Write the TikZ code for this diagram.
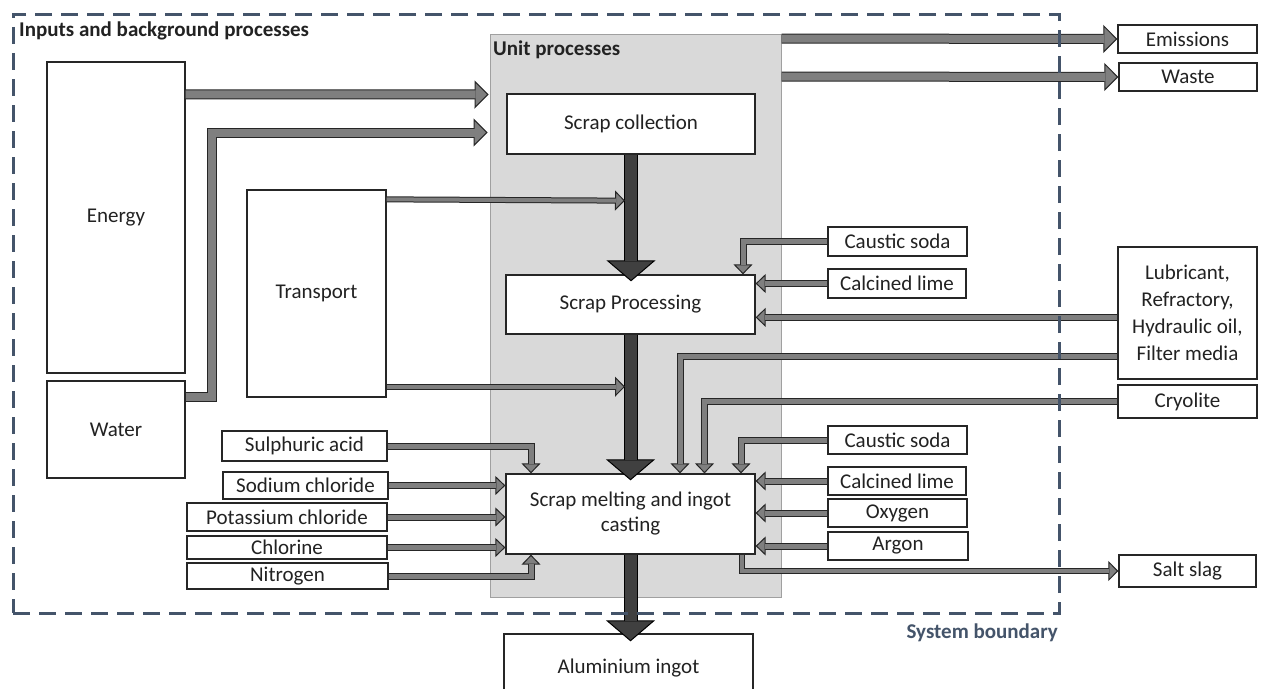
\documentclass[tikz,border=0pt]{standalone}
\usepackage{fontspec}
\setmainfont{Carlito}
\usetikzlibrary{arrows.meta,calc}
\definecolor{edge}{HTML}{262626}
\definecolor{agray}{HTML}{7F7F7F}
\definecolor{adark}{HTML}{404040}
\definecolor{unitfill}{HTML}{D9D9D9}
\definecolor{unitline}{HTML}{A0A0A0}
\definecolor{slate}{HTML}{44546A}
\definecolor{txt}{HTML}{222222}
\newcommand\fs{\fontsize{21}{25}\selectfont}
\newcommand\fsw{\fontsize{21}{27}\selectfont}
\tikzset{
  box/.style={draw=edge, fill=white, line width=1.3pt, inner sep=0pt, align=center, text=txt, font=\fs},
  unitbox/.style={draw=unitline, fill=unitfill, line width=1pt, inner sep=0pt},
  lbl/.style={inner sep=0pt, font=\fs\bfseries, text=txt},
  bigflow/.style={draw=edge, line width=10pt, line join=miter,
    -{Triangle[length=14pt,width=28pt,fill=agray,line width=1pt]},
    postaction={draw=agray, line width=8pt, arrows=-, shorten >=13pt}},
  flow/.style={draw=edge, line width=7pt, line join=miter,
    -{Triangle[length=10pt,width=19pt,fill=agray,line width=1pt]},
    postaction={draw=agray, line width=5pt, arrows=-, shorten >=9pt}},
  thinflow/.style={draw=edge, line width=6pt, line join=miter,
    -{Triangle[length=10pt,width=20pt,fill=agray,line width=1pt]},
    postaction={draw=agray, line width=4pt, arrows=-, shorten >=9pt}},
  mainflow/.style={draw=black, line width=14pt, line join=miter,
    -{Triangle[length=21pt,width=49pt,fill=adark,line width=1pt]},
    postaction={draw=adark, line width=12pt, arrows=-, shorten >=20pt}},
  sysline/.style={draw=slate, line width=3pt, dash pattern=on 17pt off 9pt, inner sep=0pt},
}
\begin{document}
\begin{tikzpicture}[x=1pt,y=-1pt]
\useasboundingbox (0,0) rectangle (1266,688);
\clip (0,0) rectangle (1266,688);
\fill[white] (0,0) rectangle (1266,688);

% unit processes area
\node[unitbox, minimum width=291pt, minimum height=563pt] (unit) at (635.5,315.5) {};

% boxes
\node[box, minimum width=138pt, minimum height=311pt] (energy) at (116,217.5) {Energy};
\node[box, minimum width=138pt, minimum height=97pt] (water) at (116,429.5) {Water};
\node[box, minimum width=139pt, minimum height=207pt] (transport) at (316.5,293.5) {Transport};

\node[box, minimum width=248pt, minimum height=60pt] (collect) at (631,124) {Scrap collection};
\node[box, minimum width=249pt, minimum height=59pt] (proc) at (630.5,304.5) {Scrap Processing};
\node[box, minimum width=249pt, minimum height=80pt] (melt) at (630.5,514) {Scrap melting and ingot\\casting};
\node[box, minimum width=249pt, minimum height=68pt] (ingot) at (628.5,668) {Aluminium ingot};

\node[box, minimum width=139pt, minimum height=28pt] (emis) at (1187.5,39) {Emissions};
\node[box, minimum width=138pt, minimum height=28pt] (waste) at (1188,77) {Waste};
\node[box, minimum width=139pt, minimum height=29pt] (caus1) at (897.5,241.5) {Caustic soda};
\node[box, minimum width=138pt, minimum height=29pt] (lime1) at (897,283.5) {Calcined lime};
\node[box, font=\fsw, minimum width=139pt, minimum height=132pt] (lub) at (1187.5,313) {Lubricant,\\Refractory,\\Hydraulic oil,\\Filter media};
\node[box, minimum width=139pt, minimum height=33pt] (cryo) at (1187.5,401.5) {Cryolite};
\node[box, minimum width=139pt, minimum height=28pt] (caus2) at (897.5,440) {Caustic soda};
\node[box, minimum width=138pt, minimum height=28pt] (lime2) at (897,481) {Calcined lime};
\node[box, minimum width=139pt, minimum height=28pt] (oxy) at (897.5,513) {Oxygen};
\node[box, minimum width=140pt, minimum height=28pt] (argon) at (898,546) {Argon};
\node[box, minimum width=137pt, minimum height=32pt] (slag) at (1187.5,571) {Salt slag};

\node[box, minimum width=165pt, minimum height=30pt] (sulph) at (304.5,446) {Sulphuric acid};
\node[box, minimum width=165pt, minimum height=27pt] (sodium) at (305.5,485.5) {Sodium chloride};
\node[box, minimum width=200pt, minimum height=28pt] (potas) at (287,517) {Potassium chloride};
\node[box, minimum width=200pt, minimum height=23pt] (chlor) at (287,547.5) {Chlorine};
\node[box, minimum width=201pt, minimum height=26pt] (nitro) at (287.5,576) {Nitrogen};

% main flow
\draw[mainflow] (collect.south) -- ($(collect.south |- proc.north)+(0,7)$);
\draw[mainflow] (proc.south) -- ($(proc.south |- melt.north)+(0,7)$);
\draw[mainflow] (melt.south) -- ($(melt.south |- ingot.north)+(0,8)$);

% energy, water
\draw[bigflow] ($(energy.north east)+(0,33)$) -- ($(unit.north west)+(-1,61)$);
\draw[bigflow] ($(water.north east)+(0,16.5)$) -| ($(unit.north west)+(-278,99)$) -- ($(unit.north west)+(-2,99)$);
% outputs
\draw[bigflow] ($(unit.north east)+(0,5)$) -- (emis.west);
\draw[bigflow] ($(unit.north east)+(0,43)$) -- (waste.west);

% transport
\draw[thinflow] ($(transport.north east)+(0,10)$) -- ($(collect.south)+(-6,46)$);
\draw[thinflow] ($(transport.south east)+(0,-11)$) -- ($(proc.south)+(-5.5,52)$);

% scrap processing inputs
\draw[flow] (caus1.west) -| ($(proc.north)+(112.5,0)$);
\draw[flow] (lime1.west) -- (lime1.west -| proc.east);
\draw[flow] ($(lub.north west)+(0,71)$) -- ($(proc.north east)+(0,43)$);

% melting inputs, right
\draw[flow] ($(lub.north west)+(0,110)$) -| ($(melt.north)+(49.5,0)$);
\draw[flow] (cryo.west) -| ($(melt.north)+(74,0)$);
\draw[flow] (caus2.west) -| ($(melt.north)+(110.5,0)$);
\draw[flow] (lime2.west) -- (lime2.west -| melt.east);
\draw[flow] (oxy.west) -- (oxy.west -| melt.east);
\draw[flow] (argon.west) -- (argon.west -| melt.east);
\draw[thinflow] ($(melt.south)+(111.5,0)$) |- (slag.west);

% melting inputs, left
\draw[flow] (sulph.east) -| ($(melt.north)+(-99.5,0)$);
\draw[flow] (sodium.east) -- (sodium.east -| melt.west);
\draw[flow] (potas.east) -- (potas.east -| melt.west);
\draw[flow] (chlor.east) -- (chlor.east -| melt.west);
\draw[flow] (nitro.east) -| ($(melt.south)+(-99.5,0)$);

% labels
\node[lbl, anchor=west] (lblin) at (19,31) {Inputs and background processes};
\node[lbl, anchor=west] (lblunit) at (493,50) {Unit processes};

% system boundary
\node[sysline, minimum width=1046pt, minimum height=599pt] (sysb) at (536,313.5) {};
\node[lbl, text=slate, anchor=east] (lblsys) at (1058,633) {System boundary};
\end{tikzpicture}
\end{document}
